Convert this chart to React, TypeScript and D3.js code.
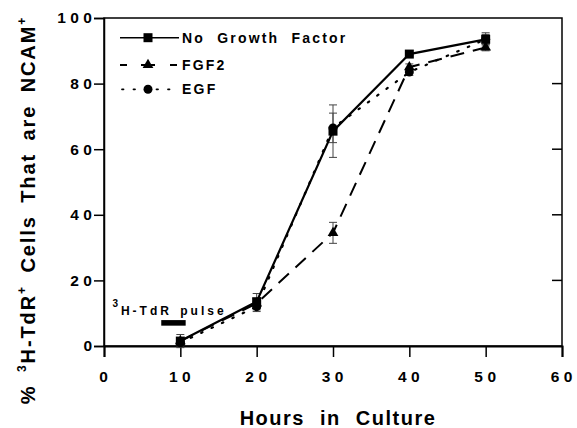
import React, { useRef, useEffect } from 'react';
import * as d3 from 'd3';

const hours = [10, 20, 30, 40, 50];
const noGrowth = [1.5, 13.5, 65.5, 89, 93.5];
const noGrowthErr = [2, 2.5, 8, 0.5, 2];
const fgf2 = [1.5, 13, 34.5, 85, 91];
const fgf2Err = [1, 1.5, 3.2, 1, 1];
const egf = [1, 12, 66.5, 83.5, 93.5];
const egfErr = [1, 1.5, 4.5, 1, 1.5];

const xTicks = [0, 10, 20, 30, 40, 50, 60];
const yTicks = [0, 20, 40, 60, 80, 100];
const pulse = [7.5, 10.7];

const FONT = '"Liberation Sans", Arial, Helvetica, sans-serif';

const App: React.FC = () => {
  const svgRef = useRef<SVGSVGElement>(null);
  const width = 577;
  const height = 428;

  useEffect(() => {
    if (!svgRef.current) return;
    const svg = d3.select(svgRef.current);
    svg.selectAll('*').remove();

    const margin = { top: 18, right: 15, bottom: 82, left: 104 };
    const innerWidth = width - margin.left - margin.right;
    const innerHeight = height - margin.top - margin.bottom;

    const x = d3.scaleLinear().domain([0, 60]).range([0, innerWidth]);
    const y = d3.scaleLinear().domain([0, 100]).range([innerHeight, 0]);

    const g = svg
      .append('g')
      .attr('transform', `translate(${margin.left},${margin.top})`);

    // frame
    g.append('rect')
      .attr('width', innerWidth)
      .attr('height', innerHeight)
      .attr('fill', 'none')
      .attr('stroke', '#000')
      .attr('stroke-width', 1.5);

    const tickFont = 15.5;
    const tickLs = 4.5;

    // x axis
    const xAxis = g
      .append('g')
      .attr('transform', `translate(0,${innerHeight})`)
      .call(d3.axisBottom(x).tickValues(xTicks).tickSize(11).tickPadding(14));
    xAxis.select('.domain').attr('stroke-width', 2);
    xAxis.selectAll('line').attr('stroke-width', 1.5);
    xAxis
      .selectAll('text')
      .attr('font-family', FONT)
      .attr('font-weight', 'bold')
      .attr('font-size', tickFont)
      .attr('letter-spacing', tickLs)
      .attr('dx', tickLs / 2 - 1);

    // y axis
    const yAxis = g
      .append('g')
      .call(d3.axisLeft(y).tickValues(yTicks).tickSize(10).tickPadding(2));
    yAxis.select('.domain').attr('stroke-width', 1.5);
    yAxis.selectAll('line').attr('stroke-width', 1.5);
    yAxis
      .selectAll('text')
      .attr('font-family', FONT)
      .attr('font-weight', 'bold')
      .attr('font-size', tickFont)
      .attr('letter-spacing', tickLs)
      .attr('dx', tickLs);

    // right inner ticks
    g.append('g')
      .selectAll('line')
      .data(yTicks.slice(1, -1))
      .enter()
      .append('line')
      .attr('x1', innerWidth)
      .attr('x2', innerWidth - 10)
      .attr('y1', (d) => y(d))
      .attr('y2', (d) => y(d))
      .attr('stroke', '#000')
      .attr('stroke-width', 1.5);

    // axis titles
    svg
      .append('text')
      .attr('x', 338)
      .attr('y', 425)
      .attr('text-anchor', 'middle')
      .attr('font-family', FONT)
      .attr('font-weight', 'bold')
      .attr('font-size', 20)
      .attr('letter-spacing', 1.5)
      .attr('word-spacing', 8)
      .text('Hours in Culture');

    const yt = svg
      .append('text')
      .attr('transform', 'translate(35,210) rotate(-90)')
      .attr('text-anchor', 'middle')
      .attr('font-family', FONT)
      .attr('font-weight', 'bold')
      .attr('font-size', 20)
      .attr('letter-spacing', 1.9)
      .attr('word-spacing', 5);
    yt.append('tspan').text('% ');
    yt.append('tspan').attr('font-size', 12).attr('dy', -9).text('3');
    yt.append('tspan').attr('dy', 9).text('H-TdR');
    yt.append('tspan').attr('font-size', 12).attr('dy', -9).text('+');
    yt.append('tspan').attr('dy', 9).text(' Cells That are NCAM');
    yt.append('tspan').attr('font-size', 12).attr('dy', -9).text('+');

    // pulse annotation
    g.append('rect')
      .attr('x', x(pulse[0]))
      .attr('width', x(pulse[1]) - x(pulse[0]))
      .attr('y', y(7.9))
      .attr('height', y(6.2) - y(7.9))
      .attr('fill', '#000');
    const pt = g
      .append('text')
      .attr('x', x(1.1))
      .attr('y', y(9.5))
      .attr('font-family', FONT)
      .attr('font-weight', 'bold')
      .attr('font-size', 12)
      .attr('letter-spacing', 3)
      .attr('word-spacing', 2);
    pt.append('tspan').attr('font-size', 10).attr('dy', -8).text('3');
    pt.append('tspan').attr('dy', 8).text('H-TdR pulse');

    const series = [
      { name: 'No Growth Factor', values: noGrowth, err: noGrowthErr, dash: null, width: 2.2, marker: 'square' },
      { name: 'FGF2', values: fgf2, err: fgf2Err, dash: '14,9', width: 2, marker: 'triangle' },
      { name: 'EGF', values: egf, err: egfErr, dash: '1.5,10', width: 2.2, marker: 'circle' },
    ];

    const line = d3
      .line<number>()
      .x((d, i) => x(hours[i]))
      .y((d) => y(d));

    const drawMarker = (sel: any, type: string, cx: number, cy: number) => {
      if (type === 'square') {
        sel.append('rect')
          .attr('x', cx - 4.5).attr('y', cy - 4.5)
          .attr('width', 9).attr('height', 9).attr('fill', '#000');
      } else if (type === 'triangle') {
        sel.append('path')
          .attr('d', d3.symbol(d3.symbolTriangle, 50)())
          .attr('transform', `translate(${cx},${cy})`)
          .attr('fill', '#000');
      } else {
        sel.append('circle').attr('cx', cx).attr('cy', cy).attr('r', 4.5).attr('fill', '#000');
      }
    };

    // error bars
    series.forEach((s) => {
      const eb = g.append('g').attr('stroke', '#444').attr('stroke-width', 1);
      s.values.forEach((v, i) => {
        const cx = x(hours[i]);
        eb.append('line').attr('x1', cx).attr('x2', cx)
          .attr('y1', y(v + s.err[i])).attr('y2', y(v - s.err[i]));
        [v + s.err[i], v - s.err[i]].forEach((e) => {
          eb.append('line').attr('x1', cx - 4).attr('x2', cx + 4)
            .attr('y1', y(e)).attr('y2', y(e));
        });
      });
    });

    series.forEach((s) => {
      g.append('path')
        .datum(s.values)
        .attr('fill', 'none')
        .attr('stroke', '#000')
        .attr('stroke-width', s.width)
        .attr('stroke-dasharray', s.dash)
        .attr('stroke-linecap', s.marker === 'circle' ? 'round' : 'butt')
        .attr('d', line);
      s.values.forEach((v, i) => drawMarker(g, s.marker, x(hours[i]), y(v)));
    });

    // legend
    const legendY = [37.7, 65, 89.3];
    const legendDash = [null, '7,14,14,15,7', '1.5,10'];
    series.forEach((s, i) => {
      const lg = svg.append('g');
      lg.append('line')
        .attr('x1', i === 2 ? 122 : 120).attr('x2', 179)
        .attr('y1', legendY[i]).attr('y2', legendY[i])
        .attr('stroke', '#000')
        .attr('stroke-width', i === 0 ? 1.5 : 1.8)
        .attr('stroke-dasharray', legendDash[i])
        .attr('stroke-linecap', i === 2 ? 'round' : 'butt');
      drawMarker(lg, s.marker, 148, legendY[i]);
      lg.append('text')
        .attr('x', 182)
        .attr('y', legendY[i] + 5)
        .attr('font-family', FONT)
        .attr('font-weight', 'bold')
        .attr('font-size', 14)
        .attr('letter-spacing', 2.2)
        .attr('word-spacing', 6)
        .text(s.name);
    });
  }, []);

  return (
    <svg
      ref={svgRef}
      width={width}
      height={height}
      style={{ position: 'absolute', left: 0, top: 0, background: '#fff' }}
    />
  );
};

export default App;
